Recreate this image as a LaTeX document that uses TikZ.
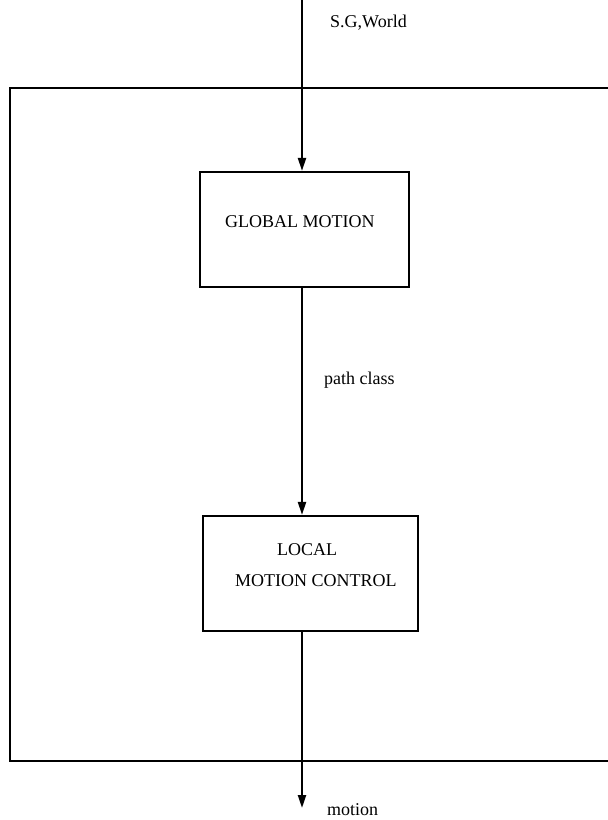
\documentclass[tikz,border=0pt]{standalone}
\usepackage{fontspec}
\setmainfont{Liberation Serif}
\usetikzlibrary{arrows.meta}

\tikzset{
  blockbox/.style={draw, line width=2.2pt, inner sep=0pt},
  flowline/.style={line width=2.2pt, -{Triangle[length=13pt,width=8pt]}},
  tag/.style={anchor=base west, inner sep=0pt, font=\fontsize{18}{20}\selectfont},
}

\begin{document}
\begin{tikzpicture}[x=1pt,y=-1pt]
  \useasboundingbox (0,0) rectangle (608,820);

  % Drawing outer frame (open on the right)
  \draw [line width=2.8pt] (608,88) -- (10,88) -- (10,761) -- (608,761);

  % Marking the two blocks
  \node [blockbox, minimum width=209pt, minimum height=115pt] (glob) at (304.5,229.5) {};
  \node [blockbox, minimum width=215pt, minimum height=115pt] (loc) at (310.5,573.5) {};

  % Texts of the blocks
  \node [tag] (globtxt) at (225,227) {GLOBAL MOTION};
  \node [tag] (loctxt) at (277,555) {LOCAL};
  \node [tag] (ctltxt) at (235,586) {MOTION CONTROL};

  % Free ends of the flow
  \coordinate (src) at (302,0);
  \coordinate (sink) at (302,808);

  % Drawing arrows
  \draw [flowline] (src) -- (src |- glob.north);
  \draw [flowline] (src |- glob.south) -- (src |- loc.north);
  \draw [flowline] (src |- loc.south) -- (sink);

  % Marking the flow labels
  \node [tag] (world) at (330,27) {S.G,World};
  \node [tag] (pclass) at (324,384) {path class};
  \node [tag] (motion) at (327,815) {motion};
\end{tikzpicture}
\end{document}
